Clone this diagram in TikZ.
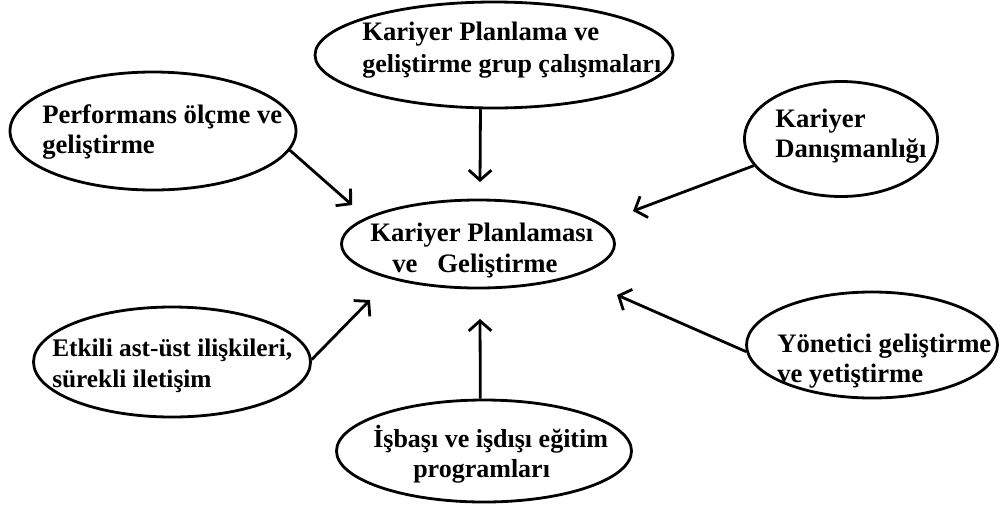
\documentclass[tikz,border=0pt]{standalone}
\usepackage{fontspec}
\setmainfont{Liberation Serif}
\usetikzlibrary{shapes.geometric,arrows.meta}

\begin{document}
\begin{tikzpicture}[x=0.75pt,y=-0.75pt,
  bubble/.style 2 args={draw=black, line width=2.1pt, ellipse, inner sep=0pt,
    minimum width={#1*0.75pt}, minimum height={#2*0.75pt}},
  txt/.style={anchor=base west, inner sep=0pt,
    font=\bfseries\fontsize{20pt}{24pt}\selectfont},
  txtsm/.style={txt, font=\bfseries\fontsize{19pt}{23pt}\selectfont},
  txtmd/.style={txt, font=\bfseries\fontsize{19.5pt}{23pt}\selectfont},
  link/.style={draw=black, line width=2.1pt,
    -{Straight Barb[length=7.5pt, width=17pt, line width=2.1pt]}}]

  % canvas
  \fill[white] (0,0) rectangle (1002,508);
  \useasboundingbox (0,0) rectangle (1002,508);

  % bubbles
  \node[bubble={358}{106}] (plan) at (494,55) {};
  \node[bubble={286}{118}] (perf) at (153,131) {};
  \node[bubble={193}{115}] (danis) at (841,139) {};
  \node[bubble={273}{88}]  (core) at (478,244) {};
  \node[bubble={277}{110}] (ilet) at (172,362) {};
  \node[bubble={251}{106}] (yon) at (872,345) {};
  \node[bubble={295}{102}] (egit) at (484,451) {};

  % labels
  \node[txt] (plan-a) at (362,40) {Kariyer Planlama ve};
  \node[txtmd] (plan-b) at (362,72) {geliştirme grup çalışmaları};
  \node[txt] (perf-a) at (42,123) {Performans ölçme ve};
  \node[txt] (perf-b) at (42,153) {geliştirme};
  \node[txt] (danis-a) at (775,127) {Kariyer};
  \node[txt] (danis-b) at (775,157) {Danışmanlığı};
  \node[txt] (core-a) at (370,241) {Kariyer Planlaması};
  \node[txt] (core-b) at (392,272) {ve\ \ \ Geliştirme};
  \node[txtsm] (ilet-a) at (52,356) {Etkili ast-üst ilişkileri,};
  \node[txtsm] (ilet-b) at (52,387) {sürekli iletişim};
  \node[txt] (yon-a) at (777,352) {Yönetici geliştirme};
  \node[txt] (yon-b) at (777,382) {ve yetiştirme};
  \node[txtmd] (egit-a) at (373,447) {İşbaşı ve işdışı eğitim};
  \node[txtmd] (egit-b) at (413,477) {programları};

  % arrow tips near the central bubble
  \coordinate (t-plan) at (480,182);
  \coordinate (t-perf) at (352,205);
  \coordinate (t-danis) at (633,211);
  \coordinate (t-ilet) at (370,300);
  \coordinate (t-yon) at (617,295);
  \coordinate (t-egit) at (480,319);

  % connectors
  \draw[link] (plan.-104.8) -- (t-plan);
  \draw[link] (perf.-8.7) -- (t-perf);
  \draw[link] (danis.197.1) -- (t-danis);
  \draw[link] (ilet.1.7) -- (t-ilet);
  \draw[link] (yon.183.2) -- (t-yon);
  \draw[link] (egit.94.5) -- (t-egit);
\end{tikzpicture}
\end{document}
